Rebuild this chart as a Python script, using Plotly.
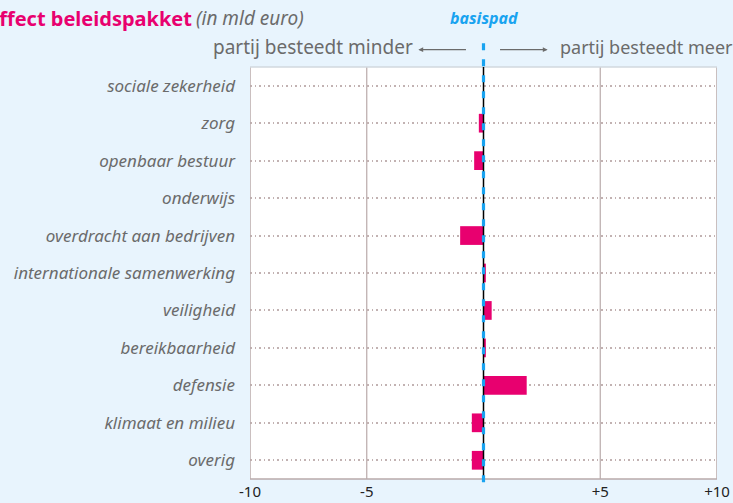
import plotly.graph_objects as go

categories = ["sociale zekerheid", "zorg", "openbaar bestuur", "onderwijs",
              "overdracht aan bedrijven", "internationale samenwerking",
              "veiligheid", "bereikbaarheid", "defensie", "klimaat en milieu", "overig"]
values = [0.0, -0.2, -0.4, 0.0, -1.0, 0.1, 0.35, 0.1, 1.85, -0.5, -0.5]
tick_vals = [-10, -5, 5, 10]
tick_text = ["-10", "-5", "+5", "+10"]

PINK = "#E8006F"
BLUE = "#19A3F0"
GRAY = "#6b6b6b"
GRID = "#b9aaaa"
FONT = "Noto Sans"

fig = go.Figure()
fig.add_trace(go.Bar(
    y=categories, x=values, orientation="h",
    marker=dict(color=PINK, line=dict(width=0)),
    width=0.5, hoverinfo="skip"))

# plot area frame and vertical grid lines
shapes = []
for v in [-5, 5]:
    shapes.append(dict(type="line", xref="x", yref="paper", x0=v, x1=v, y0=0, y1=1,
                       line=dict(color=GRID, width=1.2), layer="below"))
for v in [-10, 10]:
    shapes.append(dict(type="line", xref="x", yref="paper", x0=v, x1=v, y0=0, y1=1,
                       line=dict(color=GRID, width=1.5), layer="above"))
shapes.append(dict(type="line", xref="paper", yref="paper", x0=0, x1=1, y0=1, y1=1,
                   line=dict(color="#d2d8de", width=1.5), layer="above"))
shapes.append(dict(type="line", xref="paper", yref="paper", x0=0, x1=1, y0=0, y1=0,
                   line=dict(color=GRID, width=1.5), layer="above"))
# zero line and basispad dashed line
shapes.append(dict(type="line", xref="x", yref="paper", x0=0, x1=0, y0=0, y1=1,
                   line=dict(color="black", width=1.5), layer="above"))
shapes.append(dict(type="line", xref="x", yref="paper", x0=0, x1=0, y0=-0.008, y1=1.07,
                   line=dict(color=BLUE, width=3.2, dash="7px,9px"), layer="above"))

annotations = [
    dict(xref="paper", yref="paper", x=(194 - 250) / 466, y=1.118, xanchor="right", yanchor="middle",
         text="<b>Effect beleidspakket</b>",
         showarrow=False, font=dict(family=FONT, size=20, color=PINK)),
    dict(xref="paper", yref="paper", x=(306 - 250) / 466, y=1.118, xanchor="right", yanchor="middle",
         text="<i>(in mld euro)</i>",
         showarrow=False, font=dict(family=FONT, size=19, color=GRAY)),
    dict(xref="x", yref="paper", x=0, y=1.118, xanchor="center", yanchor="middle",
         text="<b><i>basispad</i></b>", showarrow=False,
         font=dict(family=FONT, size=16, color=BLUE)),
    dict(xref="paper", yref="paper", x=(415 - 250) / 466, y=1.048, xanchor="right", yanchor="middle",
         text="partij besteedt minder", showarrow=False,
         font=dict(family=FONT, size=19, color=GRAY)),
    dict(xref="paper", yref="paper", x=(557 - 250) / 466, y=1.048, xanchor="left", yanchor="middle",
         text="partij besteedt meer", showarrow=False,
         font=dict(family=FONT, size=18, color=GRAY)),
    # arrows
    dict(xref="x domain", yref="y domain", x=(418 - 250) / 466, y=1.042,
         ax=(467 - 250) / 466, ay=1.042, axref="x domain", ayref="y domain",
         text="", showarrow=True, arrowhead=2, arrowsize=0.8, arrowwidth=1.2, arrowcolor=GRAY),
    dict(xref="x domain", yref="y domain", x=(547 - 250) / 466, y=1.042,
         ax=(498 - 250) / 466, ay=1.042, axref="x domain", ayref="y domain",
         text="", showarrow=True, arrowhead=2, arrowsize=0.8, arrowwidth=1.2, arrowcolor=GRAY),
]

fig.update_layout(
    width=733, height=503,
    margin=dict(l=250, r=16, t=67, b=24, autoexpand=False),
    paper_bgcolor="#E8F4FD", plot_bgcolor="white",
    showlegend=False, bargap=0.5,
    shapes=shapes, annotations=annotations,
    font=dict(family=FONT, color=GRAY),
    xaxis=dict(range=[-10, 10], tickvals=tick_vals, ticktext=tick_text, automargin=False,
               showgrid=False, zeroline=False, showline=False,
               tickfont=dict(family=FONT, size=15, color="#222"), ticks="", ticklen=0,
               ticklabelstandoff=2),
    yaxis=dict(categoryorder="array", categoryarray=categories, autorange="reversed",
               automargin=False,
               showgrid=True, gridcolor="#c2b2b2", griddash="1.5px,3px", gridwidth=1.5,
               zeroline=False, showline=False, ticks="", ticklabelstandoff=14,
               tickfont=dict(family=FONT, size=17, color=GRAY)),
)
# italic category labels
fig.update_yaxes(tickvals=categories, ticktext=["<i>%s</i>" % c for c in categories])

fig.write_html("out.html", config={"displayModeBar": False},
               post_script="document.body.style.margin='0';document.body.style.overflow='hidden';")
